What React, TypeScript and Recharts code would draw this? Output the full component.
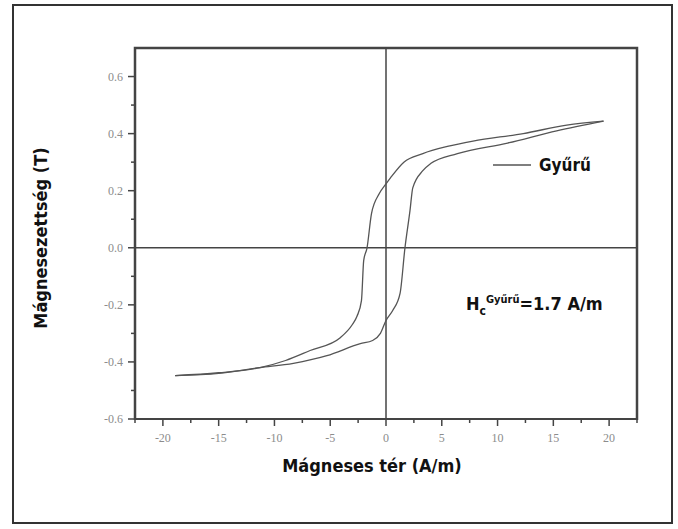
import { Line, LineChart, ReferenceLine, XAxis, YAxis } from 'recharts'

const hUpper = [-18.9, -15, -11.3, -9, -6.8, -4.1, -3.0, -2.6, -2.2, -2.0, -1.7, -1.3, -0.6, 0, 0.4, 1.6, 3.3, 5.5, 7.8, 12.3, 16.2, 19.5]
const bUpper = [-0.448, -0.438, -0.42, -0.395, -0.36, -0.315, -0.268, -0.24, -0.185, -0.045, 0, 0.12, 0.19, 0.224, 0.245, 0.3, 0.33, 0.355, 0.374, 0.4, 0.43, 0.444]
const hLower = [-18.9, -15, -11.3, -8.3, -5.3, -2.3, -1.2, -0.5, 0, 0.6, 1.26, 1.7, 2.15, 2.4, 3.3, 4.0, 6.4, 10.9, 15.3, 19.5]
const bLower = [-0.448, -0.44, -0.42, -0.405, -0.378, -0.336, -0.325, -0.3, -0.255, -0.22, -0.16, 0, 0.13, 0.21, 0.27, 0.295, 0.33, 0.367, 0.41, 0.444]

const xTicks = [-22.5, -20, -17.5, -15, -12.5, -10, -7.5, -5, -2.5, 0, 2.5, 5, 7.5, 10, 12.5, 15, 17.5, 20, 22.5]
const yTicks = [-0.6, -0.5, -0.4, -0.3, -0.2, -0.1, 0, 0.1, 0.2, 0.3, 0.4, 0.5, 0.6]

const seriesName = 'Gyűrű'
const xTitle = 'Mágneses tér (A/m)'
const yTitle = 'Mágnesezettség (T)'

const upperData = hUpper.map((h, i) => ({ h, b: bUpper[i] }))
const lowerData = hLower.map((h, i) => ({ h, b: bLower[i] }))

const titleFont = "'DejaVu Sans Condensed', 'Liberation Sans Narrow', 'Roboto Condensed', 'DejaVu Sans', sans-serif"
const tickFont = "'Liberation Serif', 'DejaVu Serif', serif"
const axisColor = '#444'
const xDomain = [-22.5, 22.5]
const yDomain = [-0.6, 0.7]

const boldText = {
  position: 'absolute' as const,
  fontFamily: titleFont,
  fontWeight: 'bold' as const,
  fontSize: 18,
  color: '#111',
  whiteSpace: 'nowrap' as const,
}

function XTick({ x, y, payload }: any) {
  const v = payload.value as number
  const major = Number.isInteger(v)
  return (
    <g>
      <line x1={x} x2={x} y1={y} y2={y + (major ? 7 : 4)} stroke={axisColor} strokeWidth={1.5} />
      {major && (
        <text x={x} y={y + 23} textAnchor="middle" fontFamily={tickFont} fontSize={12} fill="#8c8c8c">
          {v}
        </text>
      )}
    </g>
  )
}

function YTick({ x, y, payload }: any) {
  const v = payload.value as number
  const major = Math.round(Math.abs(v) * 10) % 2 === 0
  return (
    <g>
      <line x1={x - (major ? 7 : 4)} x2={x} y1={y} y2={y} stroke={axisColor} strokeWidth={1.5} />
      {major && (
        <text x={x - 12} y={y + 4} textAnchor="end" fontFamily={tickFont} fontSize={12} fill="#8c8c8c">
          {v.toFixed(1)}
        </text>
      )}
    </g>
  )
}

export default function App() {
  return (
    <div style={{ position: 'absolute', left: 0, top: 0, width: 678, height: 529, background: '#fff' }}>
      <div style={{ position: 'absolute', left: 12, top: 4, width: 657, height: 516, border: '2px solid #333' }} />
      <div style={{ position: 'absolute', left: 0, top: 0 }}>
        <LineChart width={678} height={529} margin={{ top: 48, right: 41, bottom: 80, left: 85 }}>
          <XAxis
            type="number"
            dataKey="h"
            domain={xDomain}
            ticks={xTicks}
            interval={0}
            allowDataOverflow
            axisLine={{ stroke: axisColor, strokeWidth: 2 }}
            tickLine={false}
            tickSize={0}
            tickMargin={0}
            height={30}
            tick={<XTick />}
          />
          <YAxis
            type="number"
            dataKey="b"
            domain={yDomain}
            ticks={yTicks}
            interval={0}
            allowDataOverflow
            axisLine={{ stroke: axisColor, strokeWidth: 2 }}
            tickLine={false}
            tickSize={0}
            tickMargin={0}
            width={50}
            tick={<YTick />}
          />
          <ReferenceLine x={0} stroke={axisColor} strokeWidth={1.5} />
          <ReferenceLine y={0} stroke={axisColor} strokeWidth={1.5} />
          <Line data={upperData} dataKey="b" name={seriesName} type="monotone" stroke="#555" strokeWidth={1.3} dot={false} isAnimationActive={false} />
          <Line data={lowerData} dataKey="b" name={seriesName} type="monotone" stroke="#555" strokeWidth={1.3} dot={false} isAnimationActive={false} />
        </LineChart>
      </div>
      {/* top and right edges of the plot frame */}
      <svg width={678} height={529} style={{ position: 'absolute', left: 0, top: 0, zIndex: 5, pointerEvents: 'none' }}>
        <polyline points="135,420 135,48 637,48 637,420" fill="none" stroke={axisColor} strokeWidth={2.5} />
      </svg>
      {/* legend */}
      <div style={{ position: 'absolute', left: 493, top: 155, display: 'flex', alignItems: 'center' }}>
        <svg width={40} height={10}>
          <line x1={0} x2={38} y1={5} y2={5} stroke="#555" strokeWidth={1.3} />
        </svg>
        <span style={{ fontFamily: titleFont, fontWeight: 'bold', fontSize: 17, color: '#111', marginLeft: 6 }}>{seriesName}</span>
      </div>
      <div style={{ ...boldText, left: 372, top: 465, transform: 'translate(-50%, -50%)' }}>{xTitle}</div>
      <div style={{ ...boldText, left: 40, top: 238, transform: 'translate(-50%, -50%) rotate(-90deg)' }}>{yTitle}</div>
      <div style={{ ...boldText, left: 466, top: 288, lineHeight: '24px' }}>
        H<sub style={{ fontSize: 12 }}>c</sub>
        <sup style={{ fontSize: 11 }}>{seriesName}</sup>=1.7 A/m
      </div>
    </div>
  )
}
